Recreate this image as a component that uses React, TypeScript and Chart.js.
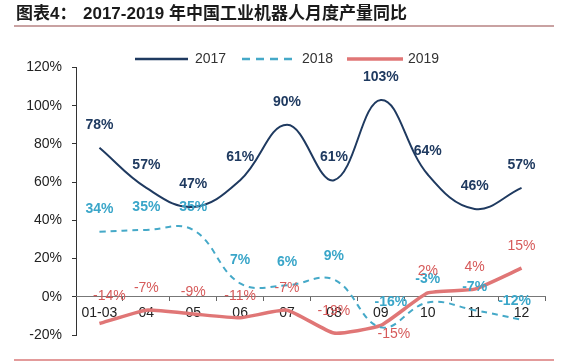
import React, { useEffect, useRef } from "react";
import { Chart, registerables } from "chart.js";

Chart.register(...registerables);

const categories = ["01-03", "04", "05", "06", "07", "08", "09", "10", "11", "12"];
const values2017 = [78, 57, 47, 61, 90, 61, 103, 64, 46, 57];
const values2018 = [34, 35, 35, 7, 6, 9, -16, -3, -7, -12];
const values2019 = [-14, -7, -9, -11, -7, -19, -15, 2, 4, 15];
const yTicks = [-20, 0, 20, 40, 60, 80, 100, 120];

const TITLE_PREFIX = "图表4：";
const TITLE_MAIN = "2017-2019 年中国工业机器人月度产量同比";

const C2017 = "#1f3a60";
const C2018 = "#45a9c8";
const C2019 = "#e07676";
const L2019 = "#d65a5a";
const FONT = "'Liberation Sans', Arial, 'Noto Sans CJK SC', sans-serif";

// label offsets (dx, dy) per dataset; default above point
const labelStyle: Record<number, { color: string; bold: boolean; dy: number; special: Record<number, [number, number]> }> = {
  0: { color: C2017, bold: true, dy: -23, special: {} },
  1: { color: "#3aa6c9", bold: true, dy: -23, special: { 6: [10, -25], 9: [-7, -19] } },
  2: { color: L2019, bold: false, dy: -22, special: { 0: [10, -27], 6: [13, 9] } },
};

const decorPlugin = {
  id: "decor",
  beforeDraw(chart: any) {
    const ctx = chart.ctx;
    ctx.save();
    ctx.fillStyle = "#ffffff";
    ctx.fillRect(0, 0, chart.width, chart.height);
    // title
    ctx.fillStyle = "#1a1a1a";
    ctx.textBaseline = "middle";
    ctx.textAlign = "left";
    ctx.font = `bold 17px ${FONT}`;
    ctx.fillText(TITLE_PREFIX, 16, 14);
    ctx.fillText(TITLE_MAIN, 83, 14);
    // separator lines
    ctx.strokeStyle = "#c9a2a2";
    ctx.lineWidth = 2;
    ctx.beginPath();
    ctx.moveTo(14, 26);
    ctx.lineTo(554, 26);
    ctx.stroke();
    ctx.strokeStyle = "#da7a7a";
    ctx.lineWidth = 1.5;
    ctx.beginPath();
    ctx.moveTo(14, 360);
    ctx.lineTo(554, 360);
    ctx.stroke();
    // legend
    const items = [
      { x1: 135, x2: 188, tx: 195, color: C2017, w: 2.5, dash: [] as number[], text: "2017" },
      { x1: 242, x2: 292, tx: 302, color: C2018, w: 2.5, dash: [8, 6], text: "2018" },
      { x1: 347, x2: 403, tx: 408, color: C2019, w: 3.5, dash: [] as number[], text: "2019" },
    ];
    const ly = 59;
    ctx.font = `14px ${FONT}`;
    for (const it of items) {
      ctx.strokeStyle = it.color;
      ctx.lineWidth = it.w;
      ctx.setLineDash(it.dash);
      ctx.beginPath();
      ctx.moveTo(it.x1, ly);
      ctx.lineTo(it.x2, ly);
      ctx.stroke();
      ctx.setLineDash([]);
      ctx.fillStyle = "#333333";
      ctx.fillText(it.text, it.tx, ly);
    }
    ctx.restore();
  },
  afterDatasetsDraw(chart: any) {
    const ctx = chart.ctx;
    ctx.save();
    ctx.textAlign = "center";
    ctx.textBaseline = "middle";
    chart.data.datasets.forEach((ds: any, di: number) => {
      const st = labelStyle[di];
      const meta = chart.getDatasetMeta(di);
      ctx.font = `${st.bold ? "bold " : ""}14px ${FONT}`;
      ctx.fillStyle = st.color;
      meta.data.forEach((pt: any, i: number) => {
        const sp = st.special[i];
        const dx = sp ? sp[0] : 0;
        const dy = sp ? sp[1] : st.dy;
        ctx.fillText(`${ds.data[i]}%`, pt.x + dx, pt.y + dy);
      });
    });
    ctx.restore();
  },
};

export default function App() {
  const ref = useRef<HTMLCanvasElement | null>(null);
  useEffect(() => {
    if (!ref.current) return;
    const chart = new Chart(ref.current, {
      type: "line",
      data: {
        labels: categories,
        datasets: [
          { label: "2017", data: values2017, borderColor: C2017, borderWidth: 2, tension: 0.4, pointRadius: 0, fill: false },
          { label: "2018", data: values2018, borderColor: C2018, borderWidth: 2, borderDash: [6, 5], tension: 0.4, pointRadius: 0, fill: false },
          { label: "2019", data: values2019, borderColor: C2019, borderWidth: 3.5, tension: 0.15, pointRadius: 0, fill: false },
        ],
      },
      options: {
        animation: false,
        responsive: false,
        devicePixelRatio: 1,
        layout: { padding: { left: 0, right: 22, top: 67.5, bottom: 28 } },
        plugins: { legend: { display: false }, tooltip: { enabled: false }, title: { display: false } },
        scales: {
          y: {
            min: -20,
            max: 120,
            afterFit: (scale: any) => {
              scale.width = 76;
            },
            afterBuildTicks: (scale: any) => {
              scale.ticks = yTicks.map((v) => ({ value: v }));
            },
            ticks: {
              callback: (v: any) => `${v}%`,
              font: { size: 14, family: FONT },
              color: "#222222",
              padding: 10,
            },
            grid: { drawOnChartArea: false, drawTicks: true, tickLength: 4, color: "#333333" },
            border: { display: true, color: "#333333", width: 1 },
          },
          x: {
            type: "category",
            offset: true,
            position: { y: 0 } as any,
            ticks: { font: { size: 14, family: FONT }, color: "#222222", padding: 4, maxRotation: 0, autoSkip: false },
            grid: { offset: true, drawOnChartArea: false, drawTicks: true, tickLength: 4, color: "#666666" },
            border: { display: true, color: "#777777", width: 1 },
          },
        },
      },
      plugins: [decorPlugin],
    });
    return () => chart.destroy();
  }, []);
  return (
    <div style={{ position: "absolute", left: 0, top: 0, width: 567, height: 363, background: "#fff" }}>
      <canvas ref={ref} width={567} height={363} style={{ display: "block" }} />
    </div>
  );
}
